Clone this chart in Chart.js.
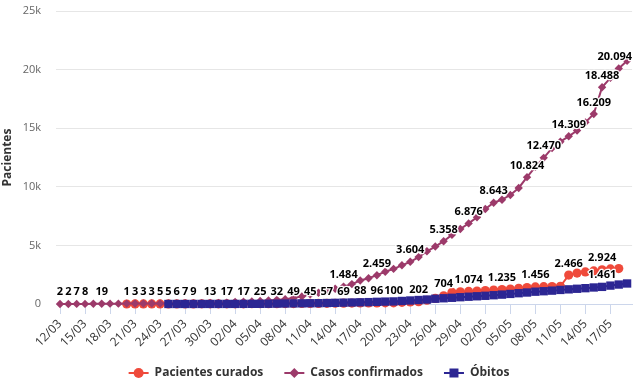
<!DOCTYPE html>
<html>
<head>
<meta charset="utf-8">
<script src="https://cdn.jsdelivr.net/npm/chart.js@4.4.1/dist/chart.umd.min.js"></script>
<style>
  html, body { margin: 0; padding: 0; background: #fff; }
  #wrap { width: 638px; height: 379px; }
</style>
</head>
<body>
<div id="wrap"><canvas id="chart"></canvas></div>
<script>
const dates = [
  '12/03','13/03','14/03','15/03','16/03','17/03','18/03','19/03','20/03','21/03',
  '22/03','23/03','24/03','25/03','26/03','27/03','28/03','29/03','30/03','31/03',
  '01/04','02/04','03/04','04/04','05/04','06/04','07/04','08/04','09/04','10/04',
  '11/04','12/04','13/04','14/04','15/04','16/04','17/04','18/04','19/04','20/04',
  '21/04','22/04','23/04','24/04','25/04','26/04','27/04','28/04','29/04','30/04',
  '01/05','02/05','03/05','04/05','05/05','06/05','07/05','08/05','09/05','10/05',
  '11/05','12/05','13/05','14/05','15/05','16/05','17/05','18/05','19/05'
]

const curados = [
  null, null, null, null, null, null, null, null, 1, 3,
  3, 3, 5, 5, 6, 7, 9, 11, 13, 15,
  17, 17, 17, 20, 25, 28, 32, 36, 40, 43,
  45, 50, 57, 62, 69, 78, 88, 92, 96, 98,
  100, 140, 170, 202, 320, 480, 704, 1000, 1040, 1074,
  1110, 1150, 1190, 1235, 1280, 1340, 1400, 1456, 1475, 1490,
  1510, 2466, 2640, 2740, 2820, 2924, 2990, 3020, null
]

const casos = [
  2, 2, 7, 8, 16, 19, 28, 30, 33, 37,
  42, 43, 46, 48, 56, 68, 73, 78, 82, 91,
  118, 168, 201, 223, 250, 309, 352, 401, 520, 650,
  820, 960, 1150, 1300, 1484, 1700, 2006, 2200, 2459, 2750,
  3000, 3300, 3604, 4000, 4500, 4900, 5358, 5900, 6400, 6876,
  7400, 8100, 8643, 8900, 9300, 9900, 10824, 11700, 12470, 13300,
  13850, 14309, 14800, 15500, 16209, 18488, 19300, 20094, 20750
]

const obitos = [
  null, null, null, null, null, null, null, null, null, null,
  null, null, null, 1, 2, 3, 3, 4, 5, 5,
  6, 8, 10, 14, 16, 20, 30, 40, 49, 56,
  65, 72, 85, 100, 115, 130, 145, 160, 186, 205,
  220, 260, 300, 340, 380, 450, 490, 530, 580, 620,
  660, 700, 750, 800, 860, 920, 980, 1050, 1090, 1140,
  1200, 1250, 1300, 1350, 1410, 1461, 1570, 1660, 1750
]

// which points carry a value label (same as the original, overlapping ones hidden)
const curadosLabelIdx = [8, 9, 10, 11, 12, 13, 14, 15, 16, 18, 20, 22, 24, 26, 30, 32, 34, 36, 38, 40, 43, 46, 49, 53, 57, 61, 65]
const casosLabelIdx = [0, 1, 2, 3, 5, 34, 38, 42, 46, 49, 52, 56, 58, 61, 64, 65, 67]
const obitosLabelIdx = [28, 65]

const RED = '#ef4a3b'
const PURPLE = '#9c3a6a'
const BLUE = '#2c2693'

Chart.defaults.font.family = '"Open Sans", sans-serif'

const toXY = (arr) => arr.map((y, i) => ({ x: i, y }))
const fmt = (v) => String(v).replace(/\B(?=(\d{3})+(?!\d))/g, '.')

function drawMarker (ctx, style, x, y, color) {
  ctx.fillStyle = color
  ctx.beginPath()
  if (style === 'circle') {
    ctx.arc(x, y, 5, 0, Math.PI * 2)
  } else if (style === 'diamond') {
    ctx.moveTo(x, y - 5); ctx.lineTo(x + 5, y); ctx.lineTo(x, y + 5); ctx.lineTo(x - 5, y)
    ctx.closePath()
  } else {
    ctx.rect(x - 4.5, y - 4.5, 9, 9)
  }
  ctx.fill()
}

const legendItems = [
  { text: 'Pacientes curados', color: RED, style: 'circle' },
  { text: 'Casos confirmados', color: PURPLE, style: 'diamond' },
  { text: 'Óbitos', color: BLUE, style: 'square' }
]

const valueLabels = {
  id: 'valueLabels',
  afterDatasetsDraw (chart) {
    const ctx = chart.ctx
    const area = chart.chartArea
    const sets = [curadosLabelIdx, casosLabelIdx, obitosLabelIdx]
    ctx.save()
    ctx.font = 'bold 11px "Open Sans"'
    ctx.textAlign = 'center'
    ctx.textBaseline = 'alphabetic'
    ctx.lineJoin = 'round'
    sets.forEach((idx, di) => {
      const meta = chart.getDatasetMeta(di)
      const data = chart.data.datasets[di].data
      idx.forEach((i) => {
        const pt = meta.data[i]
        const txt = fmt(data[i].y)
        const w = ctx.measureText(txt).width
        const x = Math.max(area.left + w / 2, Math.min(pt.x, area.right - w / 2))
        const y = pt.y - 8.5
        ctx.strokeStyle = '#fff'
        ctx.lineWidth = 2.5
        ctx.strokeText(txt, x, y)
        ctx.fillStyle = '#000'
        ctx.fillText(txt, x, y)
      })
    })
    ctx.restore()
  }
}

const bottomLegend = {
  id: 'bottomLegend',
  afterDraw (chart) {
    const ctx = chart.ctx
    ctx.save()
    ctx.font = 'bold 12px "Open Sans"'
    ctx.textBaseline = 'middle'
    ctx.textAlign = 'left'
    const sym = 20
    const gap = 6
    const spacing = 21
    const widths = legendItems.map((it) => sym + gap + ctx.measureText(it.text).width)
    const total = widths.reduce((a, b) => a + b, 0) + spacing * (legendItems.length - 1)
    let x = (chart.width - total) / 2
    const y = 373
    legendItems.forEach((it, k) => {
      ctx.strokeStyle = it.color
      ctx.lineWidth = 2
      ctx.beginPath()
      ctx.moveTo(x, y); ctx.lineTo(x + sym, y)
      ctx.stroke()
      drawMarker(ctx, it.style, x + sym / 2, y, it.color)
      ctx.fillStyle = '#333'
      ctx.fillText(it.text, x + sym + gap, y)
      x += widths[k] + spacing
    })
    ctx.restore()
  }
}

const common = { borderWidth: 2, pointBorderWidth: 0, tension: 0, clip: false, fill: false }

new Chart(document.getElementById('chart'), {
  type: 'line',
  data: {
    datasets: [
      { ...common, label: 'Pacientes curados', data: toXY(curados), borderColor: RED, backgroundColor: RED, pointBackgroundColor: RED, pointStyle: 'circle', pointRadius: 4.6, order: 3 },
      { ...common, label: 'Casos confirmados', data: toXY(casos), borderColor: PURPLE, backgroundColor: PURPLE, pointBackgroundColor: PURPLE, pointStyle: 'rectRot', pointRadius: 4.2, order: 2 },
      { ...common, label: 'Óbitos', data: toXY(obitos), borderColor: BLUE, backgroundColor: BLUE, pointBackgroundColor: BLUE, pointStyle: 'rect', pointRadius: 5.9, order: 1 }
    ]
  },
  options: {
    responsive: true,
    maintainAspectRatio: false,
    animation: false,
    layout: { padding: { top: 11, right: 5, bottom: 0, left: 0 } },
    plugins: { legend: { display: false }, tooltip: { enabled: false } },
    scales: {
      x: {
        type: 'linear',
        min: -0.48,
        max: 68.6,
        afterBuildTicks: (axis) => { axis.ticks = dates.map((d, i) => ({ value: i })).filter((t) => t.value % 3 === 0) },
        afterFit: (s) => { s.height = 75; s.paddingLeft = 0; s.paddingRight = 0 },
        ticks: { callback: (v) => dates[v] ?? '', autoSkip: false, minRotation: 45, maxRotation: 45, color: '#333', font: { size: 12 }, padding: 3 },
        grid: { drawOnChartArea: false, drawTicks: true, tickLength: 10, color: '#ccd6eb' },
        border: { display: true, color: '#ccd6eb' }
      },
      y: {
        min: 0,
        max: 25000,
        afterFit: (s) => { s.width = 56; s.paddingTop = 0; s.paddingBottom = 0 },
        ticks: { stepSize: 5000, callback: (v) => v === 0 ? '0' : v / 1000 + 'k', color: '#666', font: { size: 11 }, padding: 15 },
        grid: { color: '#e6e6e6', drawTicks: false },
        border: { display: false },
        title: { display: true, text: 'Pacientes', color: '#333', font: { size: 12, weight: 'bold' }, padding: 0 }
      }
    }
  },
  plugins: [valueLabels, bottomLegend]
})
</script>
</body>
</html>
